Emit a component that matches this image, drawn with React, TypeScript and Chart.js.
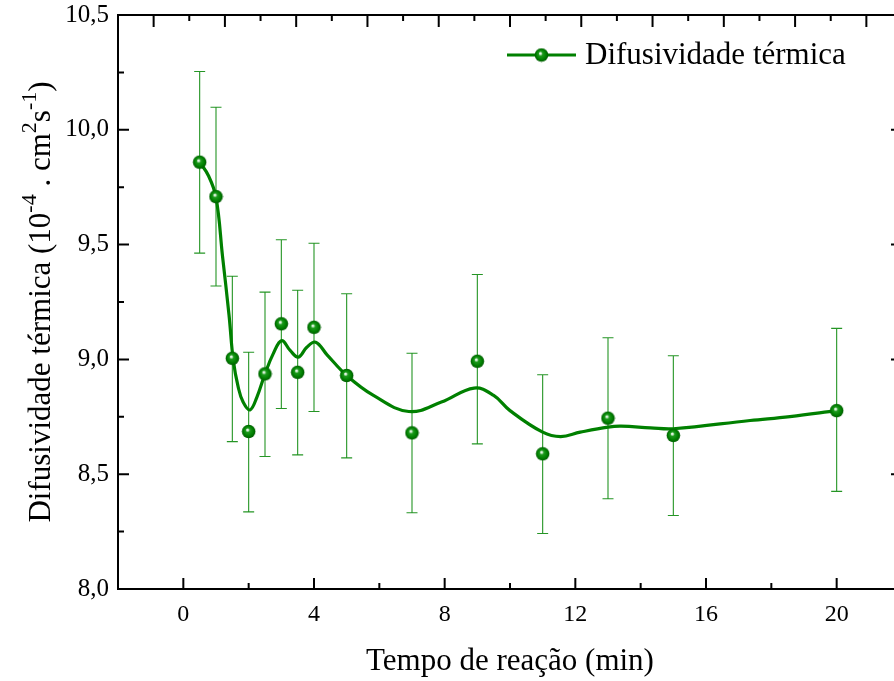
import React, { useEffect, useRef } from 'react';
import { Chart, registerables } from 'chart.js';

Chart.register(...registerables);

// ---- data ----
const TIME = [0.5, 1, 1.5, 2, 2.5, 3, 3.5, 4, 5, 7, 9, 11, 13, 15, 20];
const DIFF = [9.859, 9.709, 9.005, 8.686, 8.937, 9.155, 8.944, 9.14, 8.93, 8.68, 8.992, 8.589, 8.744, 8.669, 8.777];
const ERR_TOP = [10.254, 10.098, 9.362, 9.031, 9.293, 9.521, 9.301, 9.506, 9.286, 9.027, 9.37, 8.933, 9.094, 9.016, 9.135];
const ERR_BOTTOM = [9.463, 9.32, 8.642, 8.336, 8.577, 8.786, 8.584, 8.773, 8.571, 8.332, 8.632, 8.242, 8.393, 8.32, 8.425];

// smooth fitted curve
const CURVE_X = [0.5, 0.77, 1.0, 1.2, 1.4, 1.53, 1.68, 1.83, 2.04, 2.25, 2.5, 2.75, 3.01, 3.27, 3.52, 3.78, 4.05, 4.4, 5.0, 5.82, 6.9, 7.9, 8.9, 9.5, 10.0, 11.0, 11.55, 12.15, 13.0, 13.4, 14.3, 15.0, 17.35, 18.57, 20.0];
const CURVE_Y = [9.859, 9.8, 9.706, 9.449, 9.191, 8.995, 8.879, 8.814, 8.78, 8.835, 8.937, 9.024, 9.082, 9.039, 9.01, 9.053, 9.075, 9.02, 8.93, 8.843, 8.773, 8.814, 8.875, 8.843, 8.777, 8.683, 8.664, 8.683, 8.705, 8.709, 8.702, 8.698, 8.734, 8.751, 8.777];

// ---- axes ----
const X_MIN = -2;
const X_MAX = 22;
const Y_MIN = 8.0;
const Y_MAX = 10.5;
const X_MAJOR = [0, 4, 8, 12, 16, 20];
const X_MINOR = [2, 6, 10, 14, 18];
const Y_MAJOR = [8.0, 8.5, 9.0, 9.5, 10.0, 10.5];
const Y_MINOR = [8.25, 8.75, 9.25, 9.75, 10.25];
const TOP_MIN = 0;
const TOP_MAX = 22;
const TOP_MAJOR = [1, 3, 5, 7, 9, 11, 13, 15, 17, 19, 21];
const TOP_MINOR = [2, 4, 6, 8, 10, 12, 14, 16, 18, 20];

const X_TITLE = 'Tempo de reação (min)';
const Y_TITLE_PARTS: [string, boolean][] = [
  ['Difusividade térmica (10', false],
  ['-4', true],
  [' . cm', false],
  ['2', true],
  ['s', false],
  ['-1', true],
  [')', false],
];
const LEGEND_LABEL = 'Difusividade térmica';

const GREEN = '#008000';
const FONT = '"Liberation Serif", "Times New Roman", serif';

Chart.defaults.font.family = FONT;

function makeBall(r = 6.8): HTMLCanvasElement {
  const size = 15;
  const c = document.createElement('canvas');
  c.width = size;
  c.height = size;
  const g = c.getContext('2d')!;
  const cx = size / 2;
  const cy = size / 2;
  const grad = g.createRadialGradient(cx - 1.3, cy - 1.8, 0, cx, cy, r);
  grad.addColorStop(0, '#ffffff');
  grad.addColorStop(0.14, '#d6efd6');
  grad.addColorStop(0.32, '#1d9a1d');
  grad.addColorStop(0.72, '#008000');
  grad.addColorStop(1, '#005a00');
  g.fillStyle = grad;
  g.beginPath();
  g.arc(cx, cy, r, 0, Math.PI * 2);
  g.fill();
  return c;
}

export default function App() {
  const ref = useRef<HTMLCanvasElement>(null);

  useEffect(() => {
    const ball = makeBall();

    const decor = {
      id: 'decor',
      beforeDatasetsDraw(chart: any) {
        const ctx = chart.ctx;
        const xs = chart.scales.x;
        const ys = chart.scales.y;
        ctx.save();
        ctx.strokeStyle = '#259525';
        ctx.lineWidth = 1.1;
        TIME.forEach((t, i) => {
          const px = xs.getPixelForValue(t);
          const yt = ys.getPixelForValue(ERR_TOP[i]);
          const yb = ys.getPixelForValue(ERR_BOTTOM[i]);
          ctx.beginPath();
          ctx.moveTo(px, yt);
          ctx.lineTo(px, yb);
          ctx.moveTo(px - 5.5, yt);
          ctx.lineTo(px + 5.5, yt);
          ctx.moveTo(px - 5.5, yb);
          ctx.lineTo(px + 5.5, yb);
          ctx.stroke();
        });
        ctx.restore();
      },
      afterDraw(chart: any) {
        const ctx = chart.ctx;
        const { left, right, top, bottom } = chart.chartArea;
        const xs = chart.scales.x;
        const ys = chart.scales.y;
        const xt = chart.scales.xTop;
        ctx.save();
        ctx.strokeStyle = '#000';
        ctx.lineWidth = 2;
        ctx.lineCap = 'butt';
        // frame
        ctx.strokeRect(left, top, right - left, bottom - top);
        // ticks (inward)
        ctx.beginPath();
        X_MAJOR.forEach((v) => {
          const p = xs.getPixelForValue(v);
          ctx.moveTo(p, bottom);
          ctx.lineTo(p, bottom - 11);
        });
        X_MINOR.forEach((v) => {
          const p = xs.getPixelForValue(v);
          ctx.moveTo(p, bottom);
          ctx.lineTo(p, bottom - 6);
        });
        TOP_MAJOR.forEach((v) => {
          const p = xt.getPixelForValue(v);
          ctx.moveTo(p, top);
          ctx.lineTo(p, top + 12);
        });
        TOP_MINOR.forEach((v) => {
          const p = xt.getPixelForValue(v);
          ctx.moveTo(p, top);
          ctx.lineTo(p, top + 6);
        });
        Y_MAJOR.forEach((v) => {
          const p = ys.getPixelForValue(v);
          ctx.moveTo(left, p);
          ctx.lineTo(left + 11, p);
          ctx.moveTo(right, p);
          ctx.lineTo(right - 11, p);
        });
        Y_MINOR.forEach((v) => {
          const p = ys.getPixelForValue(v);
          ctx.moveTo(left, p);
          ctx.lineTo(left + 6, p);
          ctx.moveTo(right, p);
          ctx.lineTo(right - 6, p);
        });
        ctx.stroke();

        // x title
        ctx.fillStyle = '#000';
        ctx.font = `31px ${FONT}`;
        ctx.textAlign = 'center';
        ctx.textBaseline = 'alphabetic';
        ctx.fillText(X_TITLE, (left + right) / 2, 670);

        // y title with superscripts
        const mainFont = `31px ${FONT}`;
        const supFont = `22px ${FONT}`;
        let total = 0;
        const widths = Y_TITLE_PARTS.map(([txt, sup]) => {
          ctx.font = sup ? supFont : mainFont;
          const w = ctx.measureText(txt).width;
          total += w;
          return w;
        });
        ctx.save();
        ctx.translate(50, (top + bottom) / 2);
        ctx.rotate(-Math.PI / 2);
        ctx.textAlign = 'left';
        let cx = -total / 2;
        Y_TITLE_PARTS.forEach(([txt, sup], i) => {
          ctx.font = sup ? supFont : mainFont;
          ctx.fillText(txt, cx, sup ? -14 : 0);
          cx += widths[i];
        });
        ctx.restore();

        // legend
        const ly = 55;
        ctx.strokeStyle = GREEN;
        ctx.lineWidth = 3;
        ctx.beginPath();
        ctx.moveTo(507, ly);
        ctx.lineTo(576, ly);
        ctx.stroke();
        ctx.drawImage(ball, 541.5 - ball.width / 2, ly - ball.height / 2);
        ctx.fillStyle = '#000';
        ctx.font = `31px ${FONT}`;
        ctx.textAlign = 'left';
        ctx.textBaseline = 'middle';
        ctx.fillText(LEGEND_LABEL, 585, ly + 1);
        ctx.restore();
      },
    };

    const chart = new Chart(ref.current!, {
      type: 'line',
      data: {
        datasets: [
          {
            label: LEGEND_LABEL,
            data: TIME.map((t, i) => ({ x: t, y: DIFF[i] })),
            showLine: false,
            pointStyle: ball as any,
            pointRadius: 7,
            borderColor: GREEN,
            backgroundColor: GREEN,
            order: 0,
          },
          {
            label: 'fit',
            data: CURVE_X.map((x, i) => ({ x, y: CURVE_Y[i] })),
            borderColor: GREEN,
            borderWidth: 3.2,
            pointRadius: 0,
            fill: false,
            tension: 0.4,
            order: 1,
          },
        ],
      },
      options: {
        animation: false,
        responsive: false,
        devicePixelRatio: 1,
        events: [],
        layout: { padding: { top: 15, right: 18, left: 0, bottom: 0 } },
        plugins: { legend: { display: false }, tooltip: { enabled: false } },
        scales: {
          x: {
            type: 'linear',
            position: 'bottom',
            min: X_MIN,
            max: X_MAX,
            afterBuildTicks: (s: any) => {
              s.ticks = X_MAJOR.map((v) => ({ value: v }));
            },
            afterFit: (s: any) => {
              s.height = 92;
              s.paddingLeft = 0;
              s.paddingRight = 0;
            },
            grid: { display: false, drawTicks: false, tickLength: 0 },
            border: { display: false },
            ticks: {
              padding: 11,
              color: '#000',
              font: { family: FONT, size: 24 },
              maxRotation: 0,
              callback: (v: any) => String(v),
            },
          },
          xTop: {
            type: 'linear',
            position: 'top',
            display: false,
            min: TOP_MIN,
            max: TOP_MAX,
          },
          y: {
            type: 'linear',
            min: Y_MIN,
            max: Y_MAX,
            afterBuildTicks: (s: any) => {
              s.ticks = Y_MAJOR.map((v) => ({ value: v }));
            },
            afterFit: (s: any) => {
              s.width = 118;
              s.paddingTop = 0;
              s.paddingBottom = 0;
            },
            grid: { display: false, drawTicks: false, tickLength: 0 },
            border: { display: false },
            ticks: {
              padding: 9,
              color: '#000',
              font: { family: FONT, size: 25, lineHeight: 1 },
              callback: (v: any) => Number(v).toFixed(1).replace('.', ','),
            },
          },
        },
      },
      plugins: [decor],
    } as any);

    return () => chart.destroy();
  }, []);

  return (
    <div
      style={{
        position: 'absolute',
        left: 0,
        top: 0,
        width: 894,
        height: 681,
        overflow: 'hidden',
        background: '#fff',
      }}
    >
      <canvas ref={ref} width={920} height={681} style={{ display: 'block', width: 920, height: 681 }} />
    </div>
  );
}
